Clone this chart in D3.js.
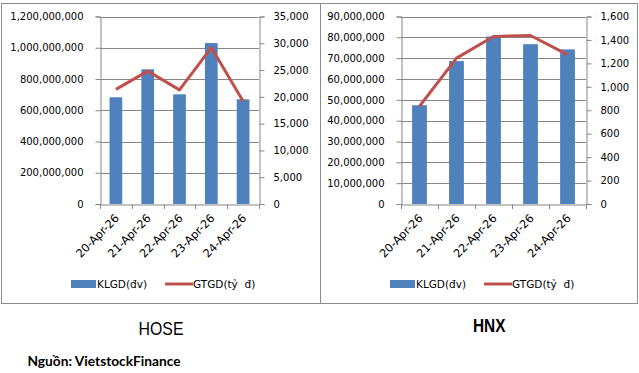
<!DOCTYPE html>
<html>
<head>
<meta charset="utf-8">
<script src="https://cdn.jsdelivr.net/npm/d3@7"></script>
<style>
  body { margin: 0; background: #fff; }
  svg text { font-family: "DejaVu Sans", Verdana, sans-serif; }
</style>
</head>
<body>
<div class="main"></div>
<script>
// dates shared by both exchanges
const dates = ["20-Apr-26", "21-Apr-26", "22-Apr-26", "23-Apr-26", "24-Apr-26"];

// HOSE
const hoseVolume = [683000000, 862000000, 702000000, 1030000000, 670000000];
const hoseValue = [21400, 24800, 21300, 29200, 19200];
const hoseLeftTicks = [0, 200000000, 400000000, 600000000, 800000000, 1000000000, 1200000000];
const hoseRightTicks = [0, 5000, 10000, 15000, 20000, 25000, 30000, 35000];

// HNX
const hnxVolume = [47400000, 68600000, 80400000, 76700000, 74200000];
const hnxValue = [834, 1245, 1430, 1438, 1274];
const hnxLeftTicks = [0, 10000000, 20000000, 30000000, 40000000, 50000000, 60000000, 70000000, 80000000, 90000000];
const hnxRightTicks = [0, 200, 400, 600, 800, 1000, 1200, 1400, 1600];

const legendLabels = ["KLGD(đv)", "GTGD(tỷ  đ)"];

let width = 639;
let height = 373;

let svg = d3.select('.main')
    .append("svg")
    .attr("width", width)
    .attr("height", height);

function drawPanel(opts) {
    let g = svg.append("g");

    // outer frame
    g.append("rect")
        .attr("x", opts.box[0] + 0.5)
        .attr("y", 3.5)
        .attr("width", opts.box[1] - opts.box[0])
        .attr("height", 300)
        .attr("fill", "none")
        .attr("stroke", "#8c8c8c")
        .attr("stroke-width", 1);

    let x = d3.scaleBand().domain(dates).range([opts.left, opts.right]).paddingInner(0).paddingOuter(0);
    let yL = d3.scaleLinear().domain([0, d3.max(opts.leftTicks)]).range([204, 16.5]);
    let yR = d3.scaleLinear().domain([0, d3.max(opts.rightTicks)]).range([204, 16.5]);

    // gridlines
    g.selectAll(".grid")
        .data(opts.leftTicks.slice(1))
        .enter().append("line")
        .attr("x1", opts.left).attr("x2", opts.right)
        .attr("y1", d => Math.round(yL(d)) + 0.5)
        .attr("y2", d => Math.round(yL(d)) + 0.5)
        .attr("stroke", "#878787");

    // bars
    let bw = x.bandwidth() * 0.4;
    g.selectAll(".bar")
        .data(opts.volume)
        .enter().append("rect")
        .attr("x", (d, i) => x(dates[i]) + x.bandwidth() / 2 - bw / 2)
        .attr("y", d => yL(d))
        .attr("width", bw)
        .attr("height", d => yL(0) - yL(d))
        .attr("fill", "#4f81bd");

    // line
    let line = d3.line()
        .x((d, i) => x(dates[i]) + x.bandwidth() / 2)
        .y(d => yR(d));
    g.append("path")
        .datum(opts.value)
        .attr("d", line)
        .attr("fill", "none")
        .attr("stroke", "#c0504d")
        .attr("stroke-width", 3)
        .attr("stroke-linejoin", "round");

    // axes
    let leftAxis = d3.axisLeft(yL).tickValues(opts.leftTicks).tickSize(5).tickPadding(12)
        .tickFormat(d3.format(","));
    let rightAxis = d3.axisRight(yR).tickValues(opts.rightTicks).tickSize(5).tickPadding(9)
        .tickFormat(d3.format(","));
    let bottomAxis = d3.axisBottom(x).tickSize(0).tickFormat("");

    [
        g.append("g").attr("transform", `translate(${Math.round(opts.left) + 0.5},0)`).call(leftAxis),
        g.append("g").attr("transform", `translate(${Math.round(opts.right) + 0.5},0)`).call(rightAxis),
        g.append("g").attr("transform", `translate(0,${Math.round(yL(0)) + 0.5})`).call(bottomAxis)
    ].forEach(a => {
        a.attr("font-family", null);
        a.select(".domain").attr("stroke", "#878787");
        a.selectAll(".tick line").attr("stroke", "#878787");
        a.selectAll("text").attr("font-size", 10).attr("fill", "#000");
    });

    // band boundary ticks on the x axis
    g.selectAll(".xtick")
        .data(dates.concat(["end"]))
        .enter().append("line")
        .attr("x1", (d, i) => Math.round(opts.left + i * x.bandwidth()) + 0.5)
        .attr("x2", (d, i) => Math.round(opts.left + i * x.bandwidth()) + 0.5)
        .attr("y1", 204.5).attr("y2", 209)
        .attr("stroke", "#878787");

    // rotated date labels
    g.selectAll(".xlabel")
        .data(dates)
        .enter().append("text")
        .attr("transform", d => `translate(${x(d) + x.bandwidth() / 2 + 4},${219}) rotate(-45)`)
        .attr("text-anchor", "end")
        .attr("font-size", 11.3)
        .text(d => d);

    // legend
    let lx = opts.box[0] + 70;
    g.append("rect")
        .attr("x", lx).attr("y", 280)
        .attr("width", 25).attr("height", 8)
        .attr("fill", "#4f81bd");
    g.append("text")
        .attr("x", lx + 26).attr("y", 288)
        .attr("font-size", 10.5)
        .text(legendLabels[0]);
    g.append("line")
        .attr("x1", lx + 94).attr("x2", lx + 122)
        .attr("y1", 284).attr("y2", 284)
        .attr("stroke", "#c0504d").attr("stroke-width", 3);
    g.append("text")
        .attr("x", lx + 122).attr("y", 288)
        .attr("font-size", 10.5)
        .style("white-space", "pre")
        .text(legendLabels[1]);

    // exchange title
    svg.append("text")
        .attr("x", opts.titleX).attr("y", opts.titleY)
        .attr("font-size", opts.titleSize)
        .attr("textLength", opts.titleW)
        .attr("lengthAdjust", "spacingAndGlyphs")
        .style("font-family", "'Liberation Sans', Arial, sans-serif")
        .attr("font-weight", opts.titleWeight)
        .text(opts.title);
}

drawPanel({
    box: [1, 320], left: 100, right: 259,
    volume: hoseVolume, value: hoseValue,
    leftTicks: hoseLeftTicks, rightTicks: hoseRightTicks,
    title: "HOSE", titleX: 138.5, titleY: 335, titleW: 45, titleSize: 18.5, titleWeight: "normal"
});

drawPanel({
    box: [320, 637], left: 401, right: 586,
    volume: hnxVolume, value: hnxValue,
    leftTicks: hnxLeftTicks, rightTicks: hnxRightTicks,
    title: "HNX", titleX: 473, titleY: 331.5, titleW: 32.5, titleSize: 17.7, titleWeight: "bold"
});

svg.append("text")
    .attr("x", 27.5).attr("y", 366)
    .attr("font-size", 13)
    .attr("font-weight", "bold")
    .attr("textLength", 153)
    .attr("lengthAdjust", "spacingAndGlyphs")
    .style("font-family", "Lato, 'Open Sans', sans-serif")
    .text("Nguồn: VietstockFinance");
</script>
</body>
</html>
